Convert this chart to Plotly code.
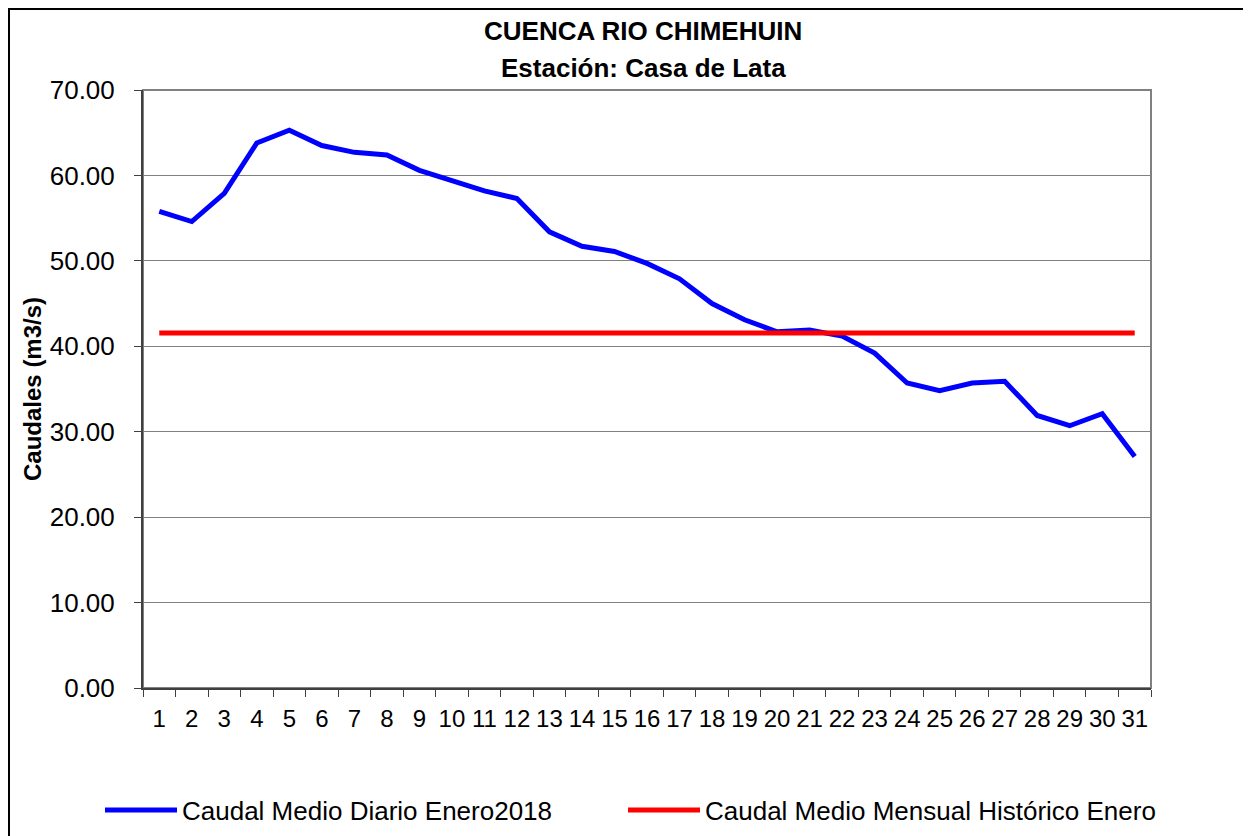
import plotly.graph_objects as go

dias = [str(d) for d in range(1, 32)]
caudal_diario = [55.8, 54.6, 57.9, 63.8, 65.3, 63.5, 62.7, 62.4, 60.6, 59.4,
                 58.2, 57.3, 53.4, 51.7, 51.1, 49.7, 47.9, 45.0, 43.1, 41.7,
                 41.9, 41.2, 39.2, 35.7, 34.8, 35.7, 35.9, 31.9, 30.7, 32.1,
                 27.1]
caudal_historico = [41.55] * 31

titulo1 = "CUENCA RIO CHIMEHUIN"
titulo2 = "Estación: Casa de Lata"
eje_y = "Caudales (m3/s)"
nombres = ["Caudal Medio Diario Enero2018", "Caudal Medio Mensual Histórico Enero"]

FONT = "Liberation Sans, Arial, sans-serif"

fig = go.Figure()
fig.add_trace(go.Scatter(x=dias, y=caudal_diario, mode='lines', name=nombres[0],
                         line=dict(color='#0000FF', width=5), legend='legend'))
fig.add_trace(go.Scatter(x=dias, y=caudal_historico, mode='lines', name=nombres[1],
                         line=dict(color='#FF0000', width=5), legend='legend2'))

# la pagina html deja 8px de margen en el body
OFF = 8
W, H = 1251 - OFF, 836 - OFF
L, R, T, B = 143 - OFF, 1151 - OFF, 90 - OFF, 688 - OFF
pw, ph = R - L, B - T

def px_x(p):
    return (p - OFF - L) / pw

def px_y(p):
    return (B - (p - OFF)) / ph

leg = dict(orientation='h', y=px_y(810), xanchor='left', yanchor='middle',
           itemwidth=72, font=dict(size=26), bgcolor='rgba(0,0,0,0)')

fig.update_layout(
    width=W, height=H,
    margin=dict(l=L, r=W - R, t=T, b=H - B, autoexpand=False),
    paper_bgcolor='white', plot_bgcolor='white',
    font=dict(family=FONT, size=25, color='black'),
    showlegend=True,
    legend=dict(leg, x=px_x(100)),
    legend2=dict(leg, x=px_x(623)),
    xaxis=dict(type='category', range=[-0.5, 30.5], showgrid=False,
               showline=True, linecolor='#404040', linewidth=2,
               ticks='outside', tickson='boundaries', ticklen=7, tickcolor='#404040',
               tickangle=0, tickfont=dict(size=24),
               ticklabelstandoff=8, zeroline=False, automargin=False),
    yaxis=dict(range=[0, 70], dtick=10, tickformat='.2f', showgrid=True,
               gridcolor='#808080', gridwidth=1,
               showline=True, linecolor='#404040', linewidth=2,
               ticks='outside', ticklen=7, tickcolor='#404040',
               tickfont=dict(size=26),
               ticklabelstandoff=14, zeroline=False, automargin=False),
    shapes=[
        dict(type='rect', xref='paper', yref='paper', x0=0, x1=1, y0=0, y1=1,
             line=dict(color='#808080', width=2), layer='below'),
        dict(type='rect', xref='paper', yref='paper',
             x0=px_x(9), x1=px_x(1249), y0=px_y(845), y1=px_y(9),
             line=dict(color='black', width=2)),
    ],
    annotations=[
        dict(text=f"<b>{titulo1}</b>", xref='paper', yref='paper', x=px_x(643), y=px_y(31),
             showarrow=False, xanchor='center', yanchor='middle', font=dict(size=26)),
        dict(text=f"<b>{titulo2}</b>", xref='paper', yref='paper', x=px_x(643), y=px_y(68),
             showarrow=False, xanchor='center', yanchor='middle', font=dict(size=26)),
        dict(text=f"<b>{eje_y}</b>", xref='paper', yref='paper', x=px_x(32), y=0.5,
             textangle=-90, showarrow=False, xanchor='center', yanchor='middle',
             font=dict(size=24)),
    ],
)

fig.write_html("out.html")
